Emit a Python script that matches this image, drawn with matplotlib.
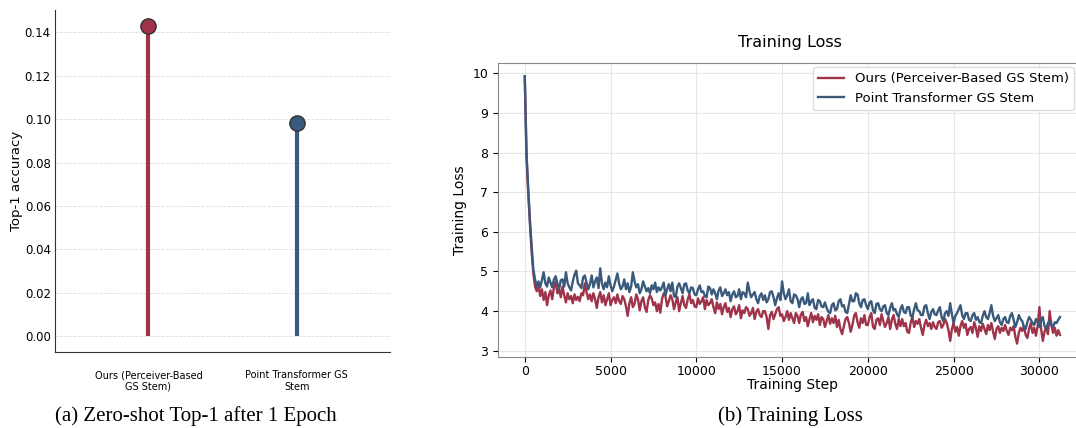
import numpy as np
import matplotlib
matplotlib.use("Agg")
import matplotlib.pyplot as plt

# --- zero-shot accuracy (left panel) ---
methods = ["Ours (Perceiver-Based\nGS Stem)", "Point Transformer GS\nStem"]
top1 = [0.143, 0.098]

# --- training loss (right panel), logged every 100 steps ---
log_every = 100
loss_ours = [
    9.92, 7.90, 7.00, 6.20, 5.50, 4.95, 4.62, 4.50, 4.65, 4.38, 4.55, 4.28, 4.48, 4.15, 4.40, 4.52, 4.30, 4.60, 4.74, 4.45,
    4.55, 4.35, 4.62, 4.40, 4.22, 4.45, 4.30, 4.38, 4.20, 4.42, 4.28, 4.36, 4.25, 4.45, 4.40, 4.70, 4.48, 4.30, 4.42, 4.25,
    4.45, 4.30, 4.08, 4.35, 4.48, 4.22, 4.40, 4.15, 4.30, 4.45, 4.15, 4.28, 4.35, 4.20, 4.42, 4.25, 4.18, 4.38, 4.30, 4.12,
    3.88, 4.20, 4.35, 4.10, 4.18, 4.42, 4.30, 4.02, 4.25, 4.35, 4.10, 3.98, 4.28, 4.40, 4.32, 4.15, 4.22, 4.00, 4.18, 3.96,
    4.30, 4.45, 4.38, 4.12, 4.25, 4.40, 4.30, 4.05, 4.22, 4.35, 4.00, 4.20, 4.38, 4.15, 4.08, 4.30, 4.42, 4.20, 4.28, 4.12,
    4.10, 4.32, 4.18, 4.25, 4.35, 4.05, 4.28, 4.15, 4.20, 4.30, 4.10, 3.95, 4.22, 4.05, 4.18, 3.92, 4.10, 4.20, 3.98, 4.08,
    3.85, 4.05, 4.12, 3.92, 4.00, 4.15, 3.82, 4.02, 3.95, 4.10, 4.05, 3.88, 3.95, 4.08, 3.80, 3.98, 4.05, 3.90, 3.85, 4.00,
    4.00, 3.85, 3.55, 3.90, 3.98, 3.80, 3.92, 4.05, 4.10, 3.88, 3.92, 3.75, 3.85, 4.00, 3.78, 3.95, 3.82, 3.70, 3.95, 3.88,
    3.70, 3.92, 3.98, 3.75, 3.85, 3.62, 3.80, 3.95, 3.72, 3.88, 3.78, 3.92, 3.65, 3.85, 3.80, 3.60, 3.75, 3.90, 3.68, 3.82,
    3.70, 3.88, 3.60, 3.78, 3.55, 3.42, 3.62, 3.80, 3.85, 3.70, 3.48, 3.65, 3.88, 3.95, 3.72, 3.58, 3.82, 3.70, 3.90, 3.65,
    3.65, 3.85, 3.95, 3.60, 3.55, 3.78, 3.82, 3.65, 3.92, 3.75, 3.60, 3.70, 3.85, 3.55, 3.78, 3.90, 3.68, 3.55, 3.80, 3.62,
    3.80, 3.62, 3.70, 3.48, 3.45, 3.72, 3.85, 3.60, 3.75, 3.68, 3.80, 3.58, 3.40, 3.65, 3.78, 3.62, 3.70, 3.55, 3.72, 3.60,
    3.55, 3.72, 3.75, 3.58, 3.65, 3.80, 3.70, 3.52, 3.25, 3.55, 3.70, 3.48, 3.60, 3.38, 3.62, 3.75, 3.58, 3.68, 3.40, 3.55,
    3.60, 3.45, 3.72, 3.58, 3.35, 3.62, 3.50, 3.68, 3.55, 3.42, 3.65, 3.52, 3.70, 3.48, 3.30, 3.55, 3.62, 3.45, 3.58, 3.50,
    3.65, 3.50, 3.40, 3.58, 3.52, 3.62, 3.35, 3.18, 3.45, 3.58, 3.50, 3.62, 3.40, 3.32, 3.55, 3.70, 3.45, 3.58, 3.38, 3.62,
    4.10, 3.55, 3.25, 3.48, 3.60, 3.42, 4.00, 3.65, 3.45, 3.58, 3.38, 3.52, 3.40,
]
loss_pt = [
    9.92, 8.00, 7.10, 6.30, 5.65, 5.05, 4.80, 4.62, 4.75, 4.60, 4.78, 4.98, 4.70, 4.62, 4.85, 4.72, 4.60, 4.80, 4.88, 4.70,
    4.55, 4.78, 4.80, 4.62, 4.98, 4.70, 4.60, 4.52, 4.75, 4.92, 5.02, 4.70, 4.65, 4.58, 4.85, 4.90, 4.72, 4.55, 4.68, 4.90,
    4.60, 4.75, 4.85, 4.58, 5.08, 4.70, 4.55, 4.72, 4.60, 4.88, 4.65, 4.50, 4.62, 4.78, 4.95, 4.70, 4.55, 4.62, 4.80, 4.55,
    4.70, 4.48, 4.62, 4.98, 4.75, 4.60, 4.68, 4.45, 4.55, 4.75, 4.62, 4.50, 4.58, 4.45, 4.65, 4.55, 4.72, 4.48, 4.60, 4.52,
    4.60, 4.72, 4.40, 4.55, 4.68, 4.50, 4.72, 4.38, 4.35, 4.62, 4.70, 4.58, 4.45, 4.68, 4.70, 4.52, 4.45, 4.60, 4.58, 4.42,
    4.40, 4.55, 4.65, 4.48, 4.50, 4.38, 4.35, 4.62, 4.58, 4.42, 4.55, 4.45, 4.30, 4.52, 4.60, 4.38, 4.45, 4.55, 4.40, 4.48,
    4.25, 4.42, 4.50, 4.35, 4.38, 4.55, 4.30, 4.48, 4.45, 4.35, 4.72, 4.50, 4.35, 4.42, 4.48, 4.30, 4.20, 4.38, 4.45, 4.28,
    4.40, 4.22, 4.30, 4.48, 4.50, 4.35, 4.15, 4.32, 4.45, 4.28, 4.75, 4.45, 4.30, 4.40, 4.55, 4.25, 4.20, 4.42, 4.40, 4.30,
    4.10, 4.30, 4.35, 4.18, 4.20, 4.45, 4.15, 4.25, 4.30, 4.08, 4.05, 4.28, 4.25, 4.12, 4.10, 4.22, 4.08, 3.98, 3.95, 4.15,
    4.20, 4.02, 4.05, 4.25, 4.30, 4.12, 4.15, 3.98, 3.95, 4.18, 4.40, 4.25, 4.25, 4.45, 4.42, 4.20, 4.10, 4.28, 4.30, 4.15,
    4.05, 4.22, 4.25, 4.02, 3.95, 4.18, 4.20, 4.05, 4.00, 4.12, 4.15, 3.95, 3.90, 4.08, 4.20, 4.02, 4.05, 3.92, 3.85, 4.05,
    4.15, 3.98, 3.95, 4.10, 4.10, 3.88, 3.85, 4.05, 4.20, 4.02, 4.00, 3.90, 3.90, 4.12, 4.15, 3.95, 3.80, 3.98, 4.05, 3.92,
    3.90, 4.02, 4.10, 3.85, 3.75, 3.95, 4.00, 3.88, 4.20, 3.92, 3.70, 3.88, 3.95, 4.05, 4.15, 3.90, 3.80, 3.95, 3.95, 3.78,
    3.75, 3.90, 3.95, 3.78, 3.85, 3.72, 3.70, 3.88, 4.00, 3.85, 3.80, 3.95, 4.15, 3.88, 3.75, 3.82, 3.90, 3.72, 3.65, 3.80,
    3.85, 3.72, 3.70, 3.88, 3.95, 3.78, 3.60, 3.72, 3.90, 3.80, 3.75, 3.60, 3.55, 3.72, 3.85, 3.78, 3.70, 3.65, 3.80, 3.72,
    3.60, 3.78, 3.85, 3.62, 3.55, 3.70, 3.75, 3.65, 3.60, 3.72, 3.70, 3.78, 3.85,
]

red = "#9e3349"
blue = "#3a5a7c"

fig = plt.figure(figsize=(10.76, 4.28), dpi=100)

# left: lollipop
ax1 = fig.add_axes([0.0511, 0.1776, 0.3114, 0.799])
xpos = np.arange(len(methods))
for x, v, c in zip(xpos, top1, [red, blue]):
    ax1.vlines(x, 0, v, color=c, lw=3, zorder=2)
    ax1.plot(x, v, "o", ms=11, color=c, mec="#333333", mew=1.0, zorder=3)
ax1.set_xlim(-0.63, 1.63)
ax1.set_xticks(xpos)
ax1.set_xticklabels(methods, fontsize=7)
ax1.tick_params(axis="x", length=0, pad=13)
ax1.tick_params(axis="y", labelsize=8.5, length=0, pad=3)
ax1.set_yticks([0, 0.02, 0.04, 0.06, 0.08, 0.10, 0.12, 0.14])
ax1.set_ylabel("Top-1 accuracy", fontsize=9.5, labelpad=1)
ax1.grid(axis="y", ls="--", lw=0.6, color="#dddddd")
ax1.set_axisbelow(True)
for s in ["top", "right"]:
    ax1.spines[s].set_visible(False)
for s in ["left", "bottom"]:
    ax1.spines[s].set_color("#333333")

# right: training loss
ax2 = fig.add_axes([0.4628, 0.1659, 0.548, 0.6869])
ax2.plot(np.arange(len(loss_ours)) * log_every, loss_ours, color=red, lw=1.7,
         label="Ours (Perceiver-Based GS Stem)")
ax2.plot(np.arange(len(loss_pt)) * log_every, loss_pt, color=blue, lw=1.7,
         label="Point Transformer GS Stem")
ax2.set_xlim(-1562, 32812)
ax2.set_xticks([0, 5000, 10000, 15000, 20000, 25000, 30000])
ax2.tick_params(labelsize=9)
ax2.tick_params(axis="x", pad=2)
ax2.set_xlabel("Training Step", fontsize=10, labelpad=0)
ax2.set_ylabel("Training Loss", fontsize=10)
ax2.grid(True, color="#e6e6e6", lw=0.8)
ax2.set_axisbelow(True)
for s in ax2.spines.values():
    s.set_color("#888888")
ax2.legend(loc="upper right", fontsize=9.5, framealpha=1, edgecolor="#dddddd",
           bbox_to_anchor=(1074 / 1076, 1 - 67 / 428), bbox_transform=fig.transFigure,
           borderaxespad=0)
fig.text(0.734, 1 - 43 / 428, "Training Loss", ha="center", va="center", fontsize=11.5)

# captions
fig.text(196 / 1076, 1 - 416 / 428, "(a) Zero-shot Top-1 after 1 Epoch",
         ha="center", va="center", family="Liberation Serif", fontsize=15)
fig.text(790 / 1076, 1 - 416 / 428, "(b) Training Loss",
         ha="center", va="center", family="Liberation Serif", fontsize=15)

fig.savefig("out.png", dpi=100)
